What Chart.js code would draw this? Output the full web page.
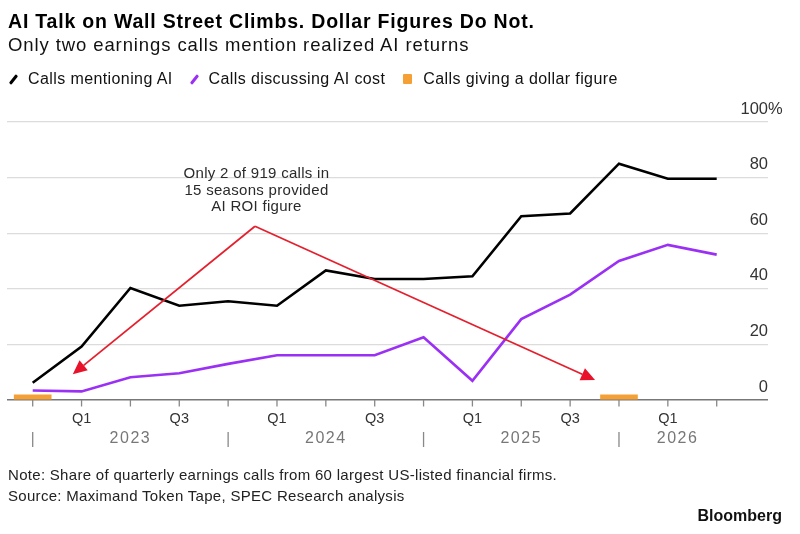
<!DOCTYPE html>
<html>
<head>
  <title>AI Talk on Wall Street Climbs</title>
  <script src="https://cdn.jsdelivr.net/npm/chart.js"></script>
  <style>
    body {
      margin: 0;
      background: #fff;
      font-family: "Liberation Sans", Arial, sans-serif;
      color: #000;
    }

    #wrap {
      position: relative;
      width: 800px;
      height: 534px;
      overflow: hidden;
    }

    #chartCanvas {
      position: absolute;
      left: 0;
      top: 0;
    }

    .title {
      position: absolute;
      left: 8px;
      top: 10px;
      font-size: 19.5px;
      font-weight: bold;
      letter-spacing: 0.8px;
      white-space: nowrap;
    }

    .subtitle {
      position: absolute;
      left: 8px;
      top: 34px;
      font-size: 18.5px;
      letter-spacing: 0.9px;
      color: #111;
      white-space: nowrap;
    }

    .legend {
      position: absolute;
      left: 8px;
      top: 70px;
      font-size: 16px;
      letter-spacing: 0.4px;
      color: #111;
      display: flex;
      align-items: center;
      white-space: nowrap;
    }

    .legend .item {
      display: flex;
      align-items: center;
      margin-right: 16px;
    }

    .legend .slash {
      width: 3px;
      height: 11px;
      border-radius: 1px;
      transform: rotate(38deg);
      margin: 0 13px 0 4px;
    }

    .legend .square {
      width: 9px;
      height: 10px;
      border-radius: 1px;
      margin: 0 11px 0 2px;
    }

    .note {
      position: absolute;
      left: 8px;
      font-size: 15px;
      letter-spacing: 0.3px;
      color: #222;
      white-space: nowrap;
    }

    .brand {
      position: absolute;
      right: 18px;
      top: 507px;
      font-size: 16px;
      font-weight: bold;
      color: #111;
    }
  </style>
</head>
<body>
  <div id="wrap">
    <canvas id="chartCanvas" width="800" height="534"></canvas>
    <div class="title">AI Talk on Wall Street Climbs. Dollar Figures Do Not.</div>
    <div class="subtitle">Only two earnings calls mention realized AI returns</div>
    <div class="legend">
      <div class="item"><span class="slash" style="background:#000"></span>Calls mentioning AI</div>
      <div class="item"><span class="slash" style="background:#9b30f5"></span>Calls discussing AI cost</div>
      <div class="item"><span class="square" style="background:#f5a034"></span>Calls giving a dollar figure</div>
    </div>
    <div class="note" style="top:466px">Note: Share of quarterly earnings calls from 60 largest US-listed financial firms.</div>
    <div class="note" style="top:487px">Source: Maximand Token Tape, SPEC Research analysis</div>
    <div class="brand">Bloomberg</div>
  </div>

  <script>
    // quarters from Q4 2022 to Q2 2026, one point per earnings season
    const quarters = ['Q4 2022', 'Q1 2023', 'Q2 2023', 'Q3 2023', 'Q4 2023',
                      'Q1 2024', 'Q2 2024', 'Q3 2024', 'Q4 2024',
                      'Q1 2025', 'Q2 2025', 'Q3 2025', 'Q4 2025',
                      'Q1 2026', 'Q2 2026'];
    const quarterLabels = ['', 'Q1', '', 'Q3', '', 'Q1', '', 'Q3', '', 'Q1', '', 'Q3', '', 'Q1', ''];

    // share of calls, %
    const mentioningAI = [6.2, 19.2, 40.3, 33.9, 35.5, 33.9, 46.6, 43.5, 43.5, 44.5, 66.1, 67.1, 85.0, 79.6, 79.6];
    const discussingCost = [3.4, 3.1, 8.2, 9.6, 13.0, 16.1, 16.1, 16.1, 22.6, 6.9, 29.1, 37.9, 50.0, 55.8, 52.3];
    const dollarFigure = [1.9, null, null, null, null, null, null, null, null, null, null, null, 1.9, null, null];

    const yTicks = [0, 20, 40, 60, 80, 100];
    const years = ['2023', '2024', '2025', '2026'];
    const yearCenters = [2, 6, 10, 13.2];
    const yearDividers = [0, 4, 8, 12];

    // annotation, in data units (quarter index, percent)
    const noteLines = ['Only 2 of 919 calls in', '15 seasons provided', 'AI ROI figure'];
    const noteAnchor = { x: 4.58, y: 81.4 };
    const arrowFrom = { x: 4.55, y: 62.5 };
    const arrowTips = [{ x: 0.82, y: 9.3 }, { x: 11.51, y: 7.2 }];

    function toPoints(values) {
      return values
        .map((v, i) => (v === null ? null : { x: i, y: v }))
        .filter(p => p !== null);
    }

    const axisDecor = {
      id: 'axisDecor',
      afterDatasetsDraw(chart) {
        const ctx = chart.ctx;
        const x = chart.scales.x;
        const y = chart.scales.y;
        const base = y.getPixelForValue(0);

        ctx.save();

        // red arrows from the note
        const ax = x.getPixelForValue(arrowFrom.x);
        const ay = y.getPixelForValue(arrowFrom.y);
        ctx.strokeStyle = '#e4202e';
        ctx.fillStyle = '#e8132a';
        ctx.lineWidth = 1.8;
        arrowTips.forEach(t => {
          const tx = x.getPixelForValue(t.x);
          const ty = y.getPixelForValue(t.y);
          const ang = Math.atan2(ty - ay, tx - ax);
          const len = 14;
          const half = 6.5;
          const bx = tx - Math.cos(ang) * len;
          const by = ty - Math.sin(ang) * len;
          ctx.beginPath();
          ctx.moveTo(ax, ay);
          ctx.lineTo(bx, by);
          ctx.stroke();
          ctx.beginPath();
          ctx.moveTo(tx, ty);
          ctx.lineTo(bx - Math.sin(ang) * half, by + Math.cos(ang) * half);
          ctx.lineTo(bx + Math.sin(ang) * half, by - Math.cos(ang) * half);
          ctx.closePath();
          ctx.fill();
        });

        // note text
        ctx.fillStyle = '#2a2a2a';
        ctx.font = '15px "Liberation Sans", Arial, sans-serif';
        ctx.letterSpacing = '0.3px';
        ctx.textAlign = 'center';
        ctx.textBaseline = 'middle';
        const nx = x.getPixelForValue(noteAnchor.x);
        const ny = y.getPixelForValue(noteAnchor.y);
        noteLines.forEach((line, i) => ctx.fillText(line, nx, ny + i * 16.7));

        // x tick marks and quarter labels
        ctx.strokeStyle = '#888';
        ctx.lineWidth = 1.3;
        ctx.fillStyle = '#333';
        ctx.font = '14.5px "Liberation Sans", Arial, sans-serif';
        ctx.letterSpacing = '0px';
        quarters.forEach((q, i) => {
          const px = x.getPixelForValue(i);
          ctx.beginPath();
          ctx.moveTo(px, base);
          ctx.lineTo(px, base + 6.5);
          ctx.stroke();
          if (quarterLabels[i]) {
            ctx.fillText(quarterLabels[i], px, base + 19);
          }
        });

        // year separators and labels
        yearDividers.forEach(i => {
          const px = x.getPixelForValue(i);
          ctx.beginPath();
          ctx.moveTo(px, base + 32);
          ctx.lineTo(px, base + 47);
          ctx.stroke();
        });
        ctx.fillStyle = '#777';
        ctx.font = '16px "Liberation Sans", Arial, sans-serif';
        ctx.letterSpacing = '1.5px';
        years.forEach((yr, i) => {
          ctx.fillText(yr, x.getPixelForValue(yearCenters[i]), base + 38.5);
        });

        // y labels sit above their gridlines, right aligned
        ctx.fillStyle = '#333';
        ctx.font = '16.5px "Liberation Sans", Arial, sans-serif';
        ctx.letterSpacing = '0px';
        ctx.textAlign = 'right';
        const right = chart.chartArea.right;
        yTicks.forEach(v => {
          const py = y.getPixelForValue(v) - 13;
          ctx.fillText(String(v), right, py);
          if (v === 100) {
            ctx.textAlign = 'left';
            ctx.fillText('%', right, py);
            ctx.textAlign = 'right';
          }
        });

        ctx.restore();
      }
    };

    const chart = new Chart(document.getElementById('chartCanvas'), {
      type: 'line',
      data: {
        datasets: [
          {
            label: 'Calls mentioning AI',
            data: toPoints(mentioningAI),
            borderColor: '#000',
            borderWidth: 2.6,
            pointRadius: 0,
            tension: 0
          },
          {
            label: 'Calls discussing AI cost',
            data: toPoints(discussingCost),
            borderColor: '#9b30f5',
            borderWidth: 2.6,
            pointRadius: 0,
            tension: 0
          },
          {
            type: 'bar',
            label: 'Calls giving a dollar figure',
            data: toPoints(dollarFigure),
            backgroundColor: '#f5a034',
            barThickness: 37,
            grouped: false
          }
        ]
      },
      options: {
        responsive: false,
        animation: false,
        layout: {
          padding: { top: 122, left: 7, right: 32, bottom: 134 }
        },
        plugins: {
          legend: { display: false },
          tooltip: { enabled: false }
        },
        scales: {
          x: {
            type: 'linear',
            min: -0.526,
            max: 15.05,
            offset: false,
            display: false
          },
          y: {
            position: 'right',
            min: 0,
            max: 100,
            ticks: { display: false, stepSize: 20 },
            grid: {
              drawTicks: false,
              color: ctx => (ctx.tick.value === 0 ? '#777' : '#dcdcdc'),
              lineWidth: ctx => (ctx.tick.value === 0 ? 1.6 : 1.3)
            },
            border: { display: false }
          }
        }
      },
      plugins: [axisDecor]
    });
  </script>
</body>
</html>
